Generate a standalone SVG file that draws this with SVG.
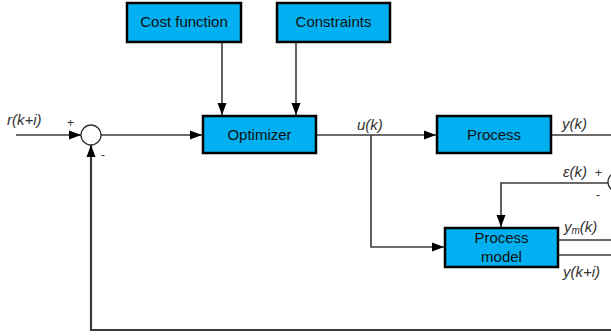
<svg xmlns="http://www.w3.org/2000/svg" width="611" height="336" viewBox="0 0 611 336">
<defs>
<marker id="ah" viewBox="0 0 12 10" refX="12" refY="5" markerWidth="12" markerHeight="10" markerUnits="userSpaceOnUse" orient="auto">
<path d="M0,0.5 L12,5 L0,9.5 z" fill="#000"/>
</marker>
</defs>
<style>
.box{fill:#00b0f0;stroke:#000;stroke-width:2.5}
.bt{font-family:"Liberation Sans",Arial,sans-serif;font-size:15px;fill:#111;text-anchor:middle}
.lbl{font-family:"Liberation Sans",Arial,sans-serif;font-size:15px;font-style:italic;fill:#333}
.sg{font-family:"Liberation Sans",Arial,sans-serif;font-size:12px;fill:#333}
.ln{fill:none;stroke:#3a3a3a;stroke-width:1.6}
.arr{marker-end:url(#ah)}
.sum{fill:#fff;stroke:#333;stroke-width:1.3}
</style>
<rect width="611" height="336" fill="#fff"/>
<g id="connectors">
<path class="ln arr" d="M16,135 H81"/>
<path class="ln arr" d="M100,135 H202"/>
<path class="ln arr" d="M222,42 V115"/>
<path class="ln arr" d="M296,42 V115"/>
<path class="ln arr" d="M316,135 H436"/>
<path class="ln arr" d="M371,135 V247 H444"/>
<path class="ln" d="M551,135 H617"/>
<path class="ln arr" d="M617,135 V172"/>
<path class="ln arr" d="M608,183 H501 V227"/>
<path class="ln" d="M558,240 H611"/>
<path class="ln arr" d="M617,230 V192"/>
<path class="ln" d="M558,255 H611"/>
<path class="ln arr" d="M611,330 H91 V145" style="stroke-width:2.2"/>
</g>
<g id="sum1"><circle class="sum" cx="91" cy="135" r="10"/></g>
<g id="sum2"><circle class="sum" cx="618" cy="182" r="10"/></g>
<g id="cost"><rect class="box" x="127" y="3" width="114" height="39"/><text class="bt" x="184" y="27">Cost function</text></g>
<g id="constraints"><rect class="box" x="277" y="3" width="113" height="39"/><text class="bt" x="333.5" y="27">Constraints</text></g>
<g id="optimizer"><rect class="box" x="203" y="116" width="113" height="37"/><text class="bt" x="259.5" y="140">Optimizer</text></g>
<g id="process"><rect class="box" x="437" y="116" width="114" height="37"/><text class="bt" x="494" y="140">Process</text></g>
<g id="model"><rect class="box" x="445" y="228" width="113" height="39"/><text class="bt" x="501.5" y="243">Process</text><text class="bt" x="501.5" y="262">model</text></g>
<g id="labels">
<text class="lbl" x="7" y="125">r(k+i)</text>
<text class="sg" x="67" y="127">+</text>
<text class="sg" x="101" y="159">-</text>
<text class="lbl" x="357" y="130">u(k)</text>
<text class="lbl" x="562" y="129">y(k)</text>
<text class="lbl" x="563" y="177">ε(k)</text>
<text class="sg" x="595" y="177">+</text>
<text class="sg" x="596" y="199">-</text>
<text class="lbl" x="564" y="232">y<tspan font-size="10" dy="2">m</tspan><tspan dy="-2">(k)</tspan></text>
<text class="lbl" x="563" y="277">y(k+i)</text>
</g>
</svg>
